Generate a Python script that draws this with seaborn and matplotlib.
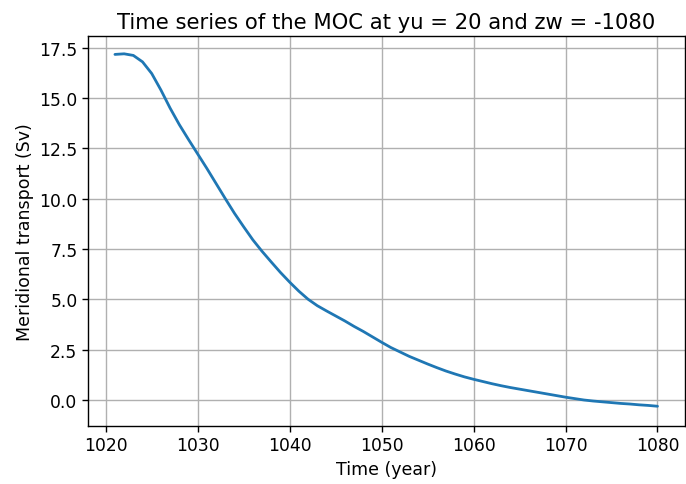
import numpy as np
import pandas as pd
import matplotlib
matplotlib.use("Agg")
import matplotlib.pyplot as plt
import seaborn as sns

years = list(range(1021, 1081))
transport = [17.17, 17.20, 17.12, 16.80, 16.22, 15.40, 14.50, 13.68, 12.94, 12.22,
             11.50, 10.75, 10.00, 9.27, 8.60, 7.95, 7.38, 6.85, 6.33, 5.85,
             5.40, 5.00, 4.68, 4.42, 4.17, 3.92, 3.65, 3.40, 3.13, 2.86,
             2.60, 2.38, 2.16, 1.97, 1.78, 1.60, 1.43, 1.28, 1.14, 1.02,
             0.91, 0.80, 0.70, 0.61, 0.53, 0.45, 0.37, 0.29, 0.21, 0.13,
             0.06, -0.01, -0.06, -0.10, -0.14, -0.18, -0.21, -0.25, -0.28, -0.32]
xticks = [1020, 1030, 1040, 1050, 1060, 1070, 1080]
yticks = [0.0, 2.5, 5.0, 7.5, 10.0, 12.5, 15.0, 17.5]
ytick_labels = ["0.0", "2.5", "5.0", "7.5", "10.0", "12.5", "15.0", "17.5"]

df = pd.DataFrame({"year": years, "moc": transport})

sns.set_style("ticks")
plt.rcParams['font.family'] = ['DejaVu Sans']
plt.rcParams['text.color'] = 'black'
plt.rcParams['axes.labelcolor'] = 'black'

fig, ax = plt.subplots(figsize=(6.86, 4.85), dpi=100)
fig.subplots_adjust(left=0.128, right=0.998, top=0.924, bottom=0.12)
sns.lineplot(data=df, x="year", y="moc", ax=ax, color="#1f77b4", linewidth=2)
ax.grid(True, color="#b0b0b0", linewidth=1)
ax.set_xticks(xticks)
ax.set_yticks(yticks)
ax.set_yticklabels(ytick_labels)
ax.tick_params(labelsize=12.3, colors="black", length=4, width=1)
for s in ax.spines.values():
    s.set_color("black")
    s.set_linewidth(1)
ax.set_xlabel("Time (year)", fontsize=12.5, color="black")
ax.set_ylabel("Meridional transport (Sv)", fontsize=12.5, color="black")
ax.set_title("Time series of the MOC at yu = 20 and zw = -1080", fontsize=15.2, color="black")
ax.set_xlim(1018.05, 1082.95)
ax.set_ylim(-1.2925, 18.0925)
fig.savefig("out.png", dpi=100)
